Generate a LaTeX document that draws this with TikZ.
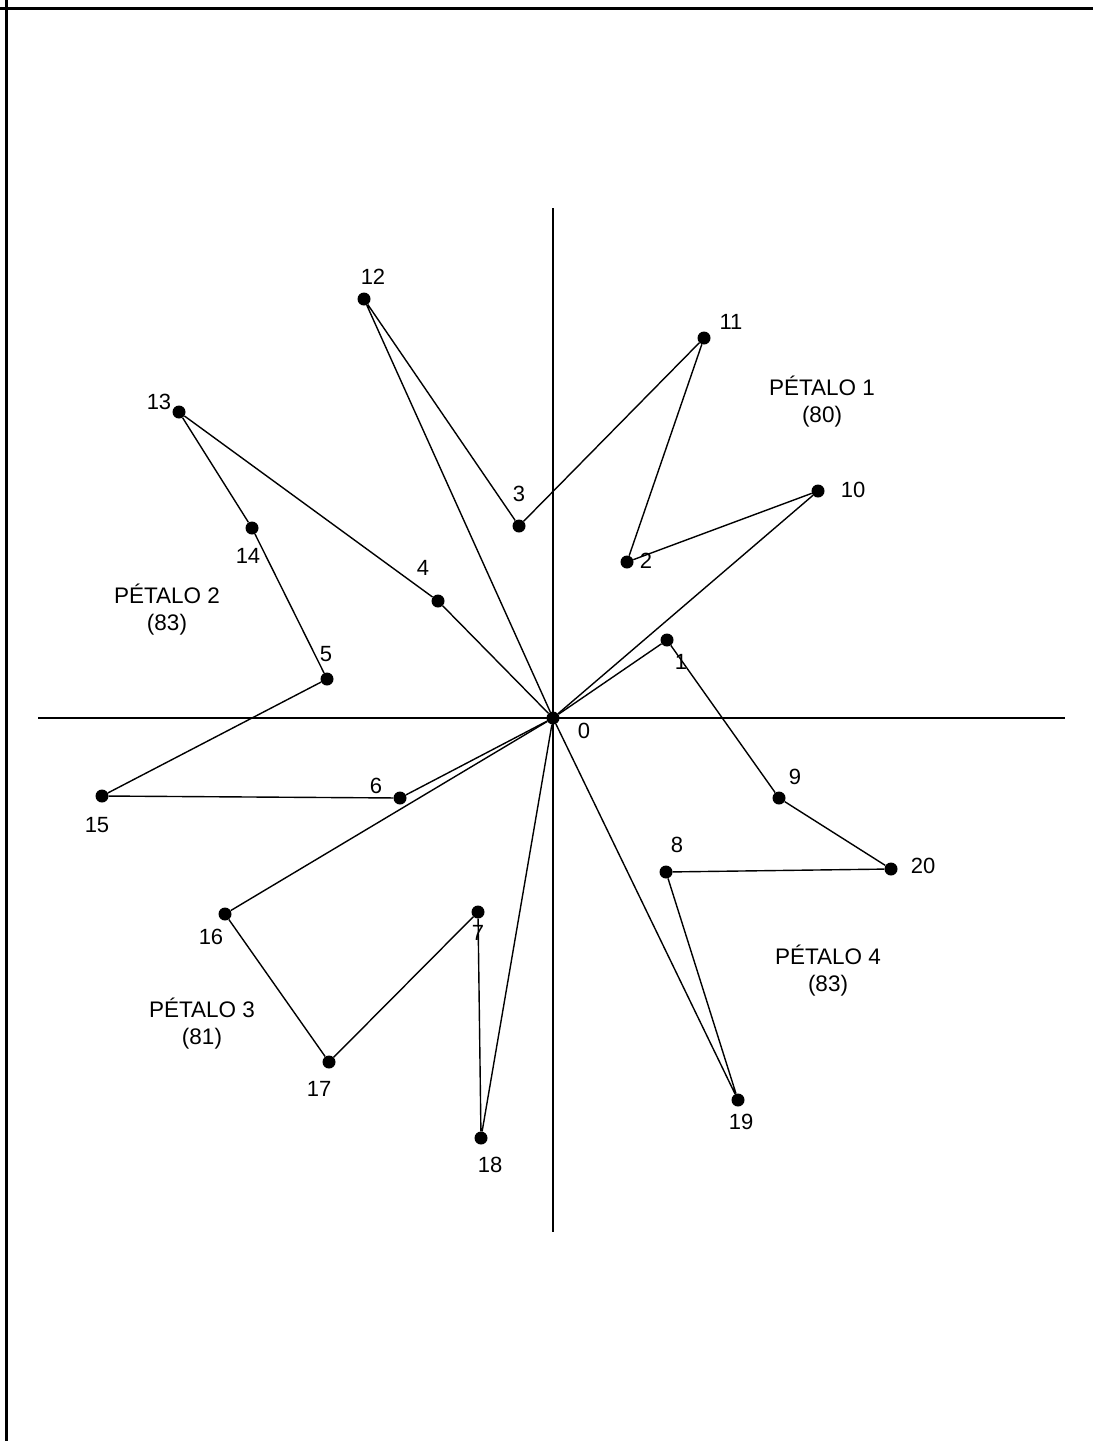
\documentclass[tikz,border=0pt]{standalone}
\usepackage{fontspec}
\setmainfont{Liberation Sans}
\usetikzlibrary{positioning}

\begin{document}
\begin{tikzpicture}[
    x=1pt, y=-1pt,
    pt/.style={circle, fill=black, inner sep=0pt, minimum size=13pt},
    lbl/.style={inner sep=0pt, font=\fontsize{22}{24}\selectfont},
    ptl/.style={align=center, inner sep=0pt, font=\fontsize{22.5}{27}\selectfont},
    ln/.style={line width=1.4pt},
    ax/.style={line width=1.4pt}
  ]
    \useasboundingbox (0,0) rectangle (1093,1441);
    % frame
    \coordinate (fa) at (0,8);
    \coordinate (fb) at (1093,8);
    \coordinate (fc) at (6,0);
    \coordinate (fd) at (6,1441);
    \draw[line width=3pt] (fa) -- (fb);
    \draw[line width=3pt] (fc) -- (fd);

    % axes
    \coordinate (yt) at (553,208);
    \coordinate (yb) at (553,1232);
    \coordinate (xl) at (38,718);
    \coordinate (xr) at (1065,718);
    \draw[ax] (yt) -- (yb);
    \draw[ax] (xl) -- (xr);

    % points
    \node[pt] (p0) at (553,718) {};
    \node[pt] (p1) at (667,640) {};
    \node[pt] (p2) at (627,562) {};
    \node[pt] (p3) at (519,526) {};
    \node[pt] (p4) at (438,601) {};
    \node[pt] (p5) at (327,679) {};
    \node[pt] (p6) at (400,798) {};
    \node[pt] (p7) at (478,912) {};
    \node[pt] (p8) at (666,872) {};
    \node[pt] (p9) at (779,798) {};
    \node[pt] (p10) at (818,491) {};
    \node[pt] (p11) at (704,338) {};
    \node[pt] (p12) at (364,299) {};
    \node[pt] (p13) at (179,412) {};
    \node[pt] (p14) at (252,528) {};
    \node[pt] (p15) at (102,796) {};
    \node[pt] (p16) at (225,914) {};
    \node[pt] (p17) at (329,1062) {};
    \node[pt] (p18) at (481,1138) {};
    \node[pt] (p19) at (738,1100) {};
    \node[pt] (p20) at (891,869) {};

    % point labels
    \node[lbl] (l0) at (584,731) {0};
    \node[lbl] (l1) at (681,662) {1};
    \node[lbl] (l2) at (646,561) {2};
    \node[lbl] (l3) at (519,494) {3};
    \node[lbl] (l4) at (423,568) {4};
    \node[lbl] (l5) at (326,654) {5};
    \node[lbl] (l6) at (376,786) {6};
    \node[lbl] (l7) at (478,933) {7};
    \node[lbl] (l8) at (677,845) {8};
    \node[lbl] (l9) at (795,777) {9};
    \node[lbl] (l10) at (853,490) {10};
    \node[lbl] (l11) at (731,322) {11};
    \node[lbl] (l12) at (373,277) {12};
    \node[lbl] (l13) at (159,402) {13};
    \node[lbl] (l14) at (248,556) {14};
    \node[lbl] (l15) at (97,825) {15};
    \node[lbl] (l16) at (211,937) {16};
    \node[lbl] (l17) at (319,1089) {17};
    \node[lbl] (l18) at (490,1165) {18};
    \node[lbl] (l19) at (741,1122) {19};
    \node[lbl] (l20) at (923,866) {20};

    % petal labels
    \node[ptl] (t1) at (822,402) {PÉTALO 1\\(80)};
    \node[ptl] (t2) at (167,610) {PÉTALO 2\\(83)};
    \node[ptl] (t3) at (202,1024) {PÉTALO 3\\(81)};
    \node[ptl] (t4) at (828,971) {PÉTALO 4\\(83)};

    % petalo 1
    \draw[ln] (p0) -- (p10) -- (p2) -- (p11) -- (p3) -- (p12) -- (p0);
    % petalo 2
    \draw[ln] (p0) -- (p4) -- (p13) -- (p14) -- (p5) -- (p15) -- (p6) -- (p0);
    % petalo 3
    \draw[ln] (p0) -- (p16) -- (p17) -- (p7) -- (p18) -- (p0);
    % petalo 4
    \draw[ln] (p0) -- (p1) -- (p9) -- (p20) -- (p8) -- (p19) -- (p0);
  \end{tikzpicture}
\end{document}
